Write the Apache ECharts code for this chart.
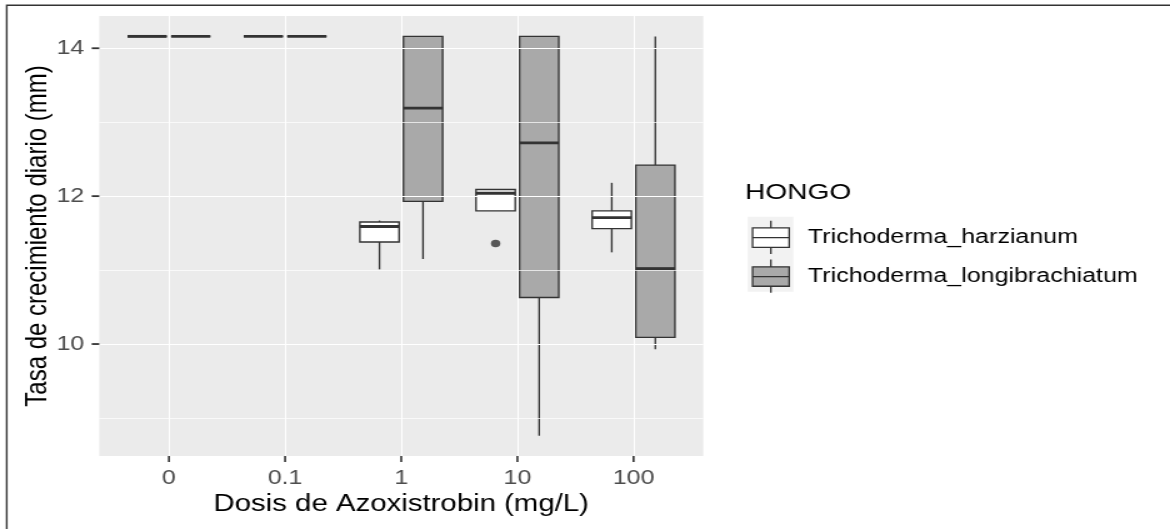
<!DOCTYPE html>
<html>
<head>
<meta charset="utf-8">
<script src="https://cdn.jsdelivr.net/npm/echarts@6/dist/echarts.min.js"></script>
<style>
html, body { margin: 0; padding: 0; background: #ffffff; overflow: hidden; width: 1170px; height: 529px; }
#chart { width: 936px; height: 529px; transform: scaleX(1.25); transform-origin: 0 0; }
</style>
</head>
<body>
<div id="chart"></div>
<script>
// ---------- DATA ----------
const doseLabels = ['0', '0.1', '1', '10', '100'];
const seriesNames = ['Trichoderma_harzianum', 'Trichoderma_longibrachiatum'];
// each entry: [min, q1, median, q3, max]
const harzianum = [
  [14.16, 14.16, 14.16, 14.16, 14.16],
  [14.16, 14.16, 14.16, 14.16, 14.16],
  [11.01, 11.38, 11.59, 11.65, 11.67],
  [11.80, 11.80, 12.04, 12.09, 12.09],
  [11.24, 11.56, 11.71, 11.80, 12.18]
];
const longibrachiatum = [
  [14.16, 14.16, 14.16, 14.16, 14.16],
  [14.16, 14.16, 14.16, 14.16, 14.16],
  [11.15, 11.93, 13.19, 14.16, 14.16],
  [8.76, 10.63, 12.72, 14.16, 14.16],
  [9.93, 10.09, 11.02, 12.42, 14.16]
];
const harzianumOutliers = [['10', 11.36]];
const yTickValues = [10, 12, 14];
const yMinorGrid = [9, 11, 13];
const yRange = [8.486, 14.436];
const xRange = [0.4, 5.6];

// ---------- RENDER ----------
const FONT = "'Liberation Sans', Arial, sans-serif";
const DODGE = 0.1875;
const BOXW = 0.3375;
const TICK_LEN = 6;
const xPositions = doseLabels.map((_, i) => i + 1);

function boxRender(offset) {
  return function (params, api) {
    const x = api.value(0) + offset;
    const mn = api.value(1), q1 = api.value(2), md = api.value(3), q3 = api.value(4), mx = api.value(5);
    const tl = api.coord([x - BOXW / 2, q3]);
    const br = api.coord([x + BOXW / 2, q1]);
    const cMax = api.coord([x, mx]);
    const cMin = api.coord([x, mn]);
    const cMed = api.coord([x, md]);
    const stroke = { stroke: '#333333', lineWidth: 1.35 };
    return {
      type: 'group',
      children: [
        { type: 'line', shape: { x1: cMax[0], y1: tl[1], x2: cMax[0], y2: cMax[1] }, style: stroke },
        { type: 'line', shape: { x1: cMin[0], y1: br[1], x2: cMin[0], y2: cMin[1] }, style: stroke },
        { type: 'rect', shape: { x: tl[0], y: tl[1], width: br[0] - tl[0], height: br[1] - tl[1] },
          style: { fill: api.visual('color'), stroke: '#333333', lineWidth: 1.35 } },
        { type: 'line', shape: { x1: tl[0], y1: cMed[1], x2: br[0], y2: cMed[1] },
          style: { stroke: '#333333', lineWidth: 2.9 } }
      ]
    };
  };
}

const gridLines = []
  .concat(yTickValues.map(v => ({ yAxis: v, lineStyle: { width: 1.2 } })))
  .concat(yMinorGrid.map(v => ({ yAxis: v, lineStyle: { width: 0.7 } })))
  .concat(xPositions.map(v => ({ xAxis: v, lineStyle: { width: 1.1 } })));

const boxIcon = 'path://M0,7.3 L29.3,7.3 L29.3,26.7 L0,26.7 Z M0,17 L29.3,17 M14.65,0 L14.65,7.3 M14.65,26.7 L14.65,33.3';

const baseGraphics = [
  { type: 'polyline', id: 'frame', z: 0, shape: { points: [[5.4, 529], [5.4, 5.3], [936, 5.3]] },
    style: { stroke: '#333333', lineWidth: 1.4, fill: null } },
  { type: 'rect', id: 'keybg', z: 0, shape: { x: 598.2, y: 216.7, width: 36.5, height: 75 },
    style: { fill: '#F2F2F2' } }
];

const chart = echarts.init(document.getElementById('chart'), null, { renderer: 'canvas' });
chart.setOption({
  animation: false,
  backgroundColor: '#ffffff',
  textStyle: { fontFamily: FONT },
  title: {
    text: 'HONGO', left: 596, top: 181,
    textStyle: { fontFamily: FONT, fontSize: 22.5, fontWeight: 'normal', color: '#000000' },
    padding: 0
  },
  graphic: baseGraphics,
  legend: {
    orient: 'vertical', left: 601.4, top: 220, padding: 0,
    itemWidth: 29.3, itemHeight: 33.3, itemGap: 4.3,
    selectedMode: false,
    textStyle: { fontFamily: FONT, fontSize: 20, color: '#000000', padding: [0, 0, 0, 10] },
    data: [
      { name: seriesNames[0], icon: boxIcon, itemStyle: { color: '#ffffff', borderColor: '#333333', borderWidth: 1.3 } },
      { name: seriesNames[1], icon: boxIcon, itemStyle: { color: '#A9A9A9', borderColor: '#333333', borderWidth: 1.3 } }
    ]
  },
  grid: { left: 79.4, top: 16, width: 483.2, height: 440, show: true, backgroundColor: '#EBEBEB', borderWidth: 0 },
  xAxis: {
    type: 'value', min: xRange[0], max: xRange[1],
    axisLine: { show: false },
    splitLine: { show: false },
    axisTick: { show: false },
    axisLabel: { customValues: xPositions, formatter: v => doseLabels[Math.round(v) - 1],
      fontSize: 20, color: '#4D4D4D', margin: 12, fontFamily: FONT },
    name: 'Dosis de Azoxistrobin (mg/L)', nameLocation: 'middle', nameGap: 35,
    nameTextStyle: { fontSize: 23.5, color: '#000000', fontFamily: FONT }
  },
  yAxis: {
    type: 'value', min: yRange[0], max: yRange[1],
    axisLine: { show: false },
    splitLine: { show: false },
    axisTick: { show: false },
    axisLabel: { customValues: yTickValues, fontSize: 20, color: '#4D4D4D', margin: 12, fontFamily: FONT },
    name: 'Tasa de crecimiento diario (mm)', nameLocation: 'middle', nameGap: 37, nameRotate: 90,
    nameMoveOverlap: false,
    nameTextStyle: { fontSize: 24, color: '#000000', fontFamily: FONT }
  },
  series: [
    {
      type: 'line', name: 'grid', data: [], z: 1, silent: true,
      markLine: { silent: true, symbol: 'none', label: { show: false },
        lineStyle: { color: '#ffffff', type: 'solid' }, emphasis: { disabled: true }, data: gridLines }
    },
    {
      type: 'custom', name: seriesNames[0], z: 2,
      itemStyle: { color: '#ffffff' },
      renderItem: boxRender(-DODGE),
      encode: { x: 0, y: [1, 2, 3, 4, 5] },
      data: harzianum.map((s, i) => [xPositions[i]].concat(s))
    },
    {
      type: 'custom', name: seriesNames[1], z: 2,
      itemStyle: { color: '#A9A9A9' },
      renderItem: boxRender(DODGE),
      encode: { x: 0, y: [1, 2, 3, 4, 5] },
      data: longibrachiatum.map((s, i) => [xPositions[i]].concat(s))
    },
    {
      type: 'scatter', name: 'outliers', z: 3, symbol: 'circle', symbolSize: 7.5,
      itemStyle: { color: '#333333' },
      data: harzianumOutliers.map(([d, v]) => [doseLabels.indexOf(d) + 1 - DODGE, v])
    }
  ]
});

// Axis tick marks, placed through the chart's own axis scales
const tickGraphics = [];
xPositions.forEach((v, i) => {
  const p = chart.convertToPixel({ xAxisIndex: 0, yAxisIndex: 0 }, [v, yRange[0]]);
  tickGraphics.push({ type: 'rect', id: 'xt' + i, z: 50,
    shape: { x: p[0] - 0.8, y: p[1], width: 1.6, height: TICK_LEN },
    style: { fill: '#333333' } });
});
yTickValues.forEach((v, i) => {
  const p = chart.convertToPixel({ xAxisIndex: 0, yAxisIndex: 0 }, [xRange[0], v]);
  tickGraphics.push({ type: 'rect', id: 'yt' + i, z: 50,
    shape: { x: p[0] - TICK_LEN, y: p[1] - 0.9, width: TICK_LEN, height: 1.8 },
    style: { fill: '#333333' } });
});
chart.setOption({ graphic: baseGraphics.concat(tickGraphics) });
</script>
</body>
</html>
